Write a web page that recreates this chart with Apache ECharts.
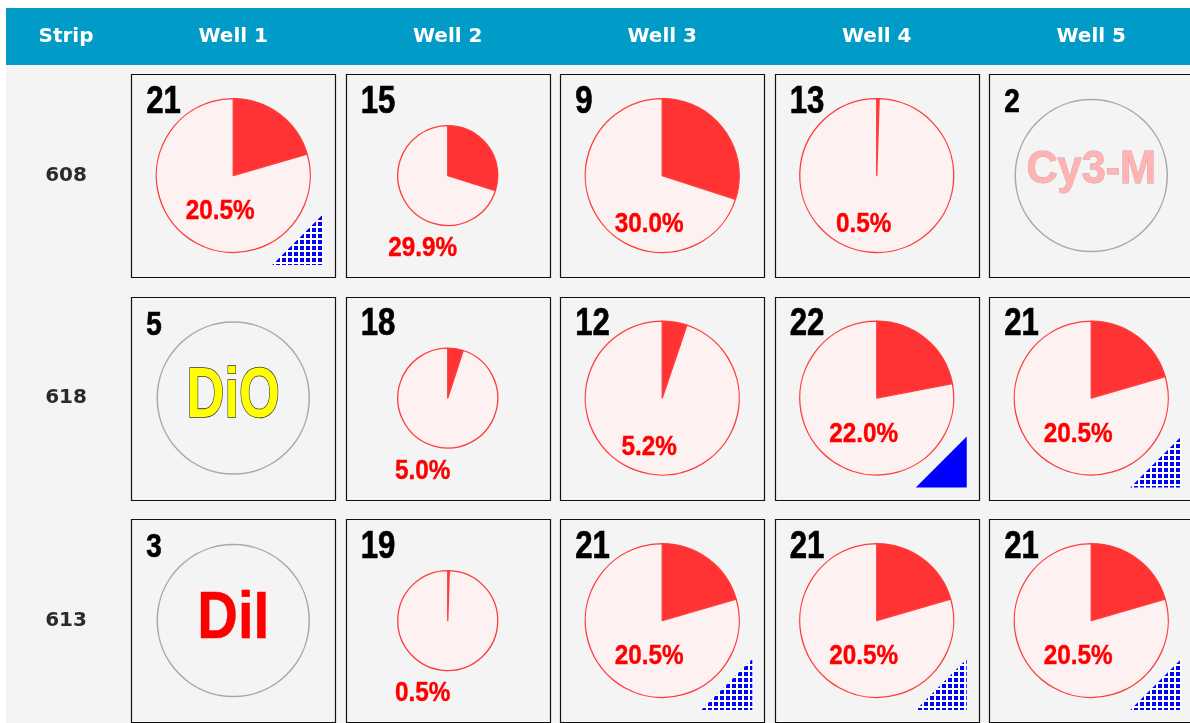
<!DOCTYPE html>
<html><head><meta charset="utf-8">
<script src="https://cdn.jsdelivr.net/npm/echarts@6/dist/echarts.min.js"></script>
<style>html,body{margin:0;padding:0;background:#fff;overflow:hidden}#c{width:1200px;height:740px}</style>
</head><body><div id="c"></div>
<script>
// ---- data ----
const strips = ['608', '618', '613'];
const wells = ['Well 1', 'Well 2', 'Well 3', 'Well 4', 'Well 5'];
const counts = [
  [21, 15, 9, 13, 2],
  [5, 18, 12, 22, 21],
  [3, 19, 21, 21, 21]
];
const positives = [
  [20.5, 29.9, 30.0, 0.5, null],
  [null, 5.0, 5.2, 22.0, 20.5],
  [null, 0.5, 20.5, 20.5, 20.5]
];
const dyes = [
  [null, null, null, null, 'Cy3-M'],
  ['DiO', null, null, null, null],
  ['DiI', null, null, null, null]
];
const markers = [
  ['hatched', null, null, null, null],
  [null, null, null, 'solid', 'hatched'],
  [null, null, 'hatched', 'hatched', 'hatched']
];
const compactWells = ['Well 2'];
const headerStrip = 'Strip';

// ---- layout / style ----
const PAGE_LEFT = 6, HEAD_TOP = 8, HEAD_BOTTOM = 65, GRID_TOP = 64.3;
const STRIP_COL = 120, COL_W = 214.5, ROW_H = 222.5;
const BOX_W = 204, BOX_H = 203;
const SANS = '"Liberation Sans",Arial,sans-serif';
const dyeStyle = {
  'Cy3-M': { fill: '#ffb3b3', stroke: '#c9a0a0', lineWidth: 0.8, size: 47, sx: 0.92, dy: -6 },
  'DiO': { fill: '#ffff00', stroke: '#333333', lineWidth: 1.6, size: 71, sx: 0.74, dy: -1 },
  'DiI': { fill: '#ff0000', stroke: '#ff0000', lineWidth: 0.5, size: 67, sx: 0.84, dy: -1 }
};

const cells = [];
strips.forEach((s, si) => wells.forEach((w, wi) => {
  cells.push({ si, wi, count: counts[si][wi], pct: positives[si][wi], dye: dyes[si][wi], marker: markers[si][wi] });
}));

// hatch pattern
const pc = document.createElement('canvas');
pc.width = 6; pc.height = 6;
const pctx = pc.getContext('2d');
pctx.fillStyle = '#ffffff'; pctx.fillRect(0, 0, 6, 6);
pctx.fillStyle = '#0000ff'; pctx.fillRect(0, 0, 4, 4);
const hatch = { type: 'pattern', image: pc, repeat: 'repeat' };

const chart = echarts.init(document.getElementById('c'), null, { renderer: 'canvas' });

function condText(text, x, y, size, sx, fill, align, extra) {
  const style = Object.assign({
    text, x: 0, y: 0, font: 'bold ' + size + 'px ' + SANS, fill,
    align, verticalAlign: 'middle'
  }, extra || {});
  return { type: 'text', x, y, scaleX: sx, scaleY: 1, style };
}

function renderBox(params, api) {
  const p = api.coord([api.value(0), api.value(1)]);
  return {
    type: 'rect',
    shape: { x: Math.round(p[0] - BOX_W / 2) + 0.5, y: Math.round(p[1] - BOX_H / 2) + 0.5, width: BOX_W, height: BOX_H },
    style: { fill: '#f4f4f4', stroke: '#111', lineWidth: 1.2 }
  };
}

function renderOverlay(params, api) {
  const cell = cells[params.dataIndex];
  const p = api.coord([api.value(0), api.value(1)]);
  const cx = p[0], cy = p[1];
  const left = cx - BOX_W / 2, top = cy - BOX_H / 2, right = cx + BOX_W / 2, bottom = cy + BOX_H / 2;
  const children = [];
  if (cell.marker) {
    const s = 51, m = 12;
    children.push({
      type: 'polygon',
      shape: { points: [[right - m, bottom - m - s], [right - m, bottom - m], [right - m - s, bottom - m]] },
      style: { fill: cell.marker === 'solid' ? '#0000ff' : hatch }
    });
  }
  children.push(condText(String(cell.count), left + 15, top + (cell.dye ? 29 : 28),
    cell.dye ? 34 : 38, 0.82, '#000', 'left', { stroke: '#000', lineWidth: 0.7 }));
  if (cell.pct != null) {
    const small = compactWells.includes(wells[cell.wi]);
    const dx = small ? -25 : -13;
    const dy = small ? 73 : (cell.marker ? 36 : 49);
    children.push(condText(cell.pct.toFixed(1) + '%', cx + dx, cy + dy, 27, 0.9, '#ff0000', 'center', { stroke: '#ff0000', lineWidth: 0.4 }));
  }
  if (cell.dye) {
    const st = dyeStyle[cell.dye];
    const extra = { stroke: st.stroke, lineWidth: st.lineWidth };
    children.push(condText(cell.dye, cx, cy + st.dy, st.size, st.sx, st.fill, 'center', extra));
  }
  return { type: 'group', children };
}

const base = {
  backgroundColor: '#ffffff',
  animation: false,
  graphic: {
    elements: [
      { type: 'rect', z: -10, silent: true, shape: { x: PAGE_LEFT, y: HEAD_BOTTOM, width: 1300, height: 800 }, style: { fill: '#f4f4f4' } },
      { type: 'rect', z: -10, silent: true, shape: { x: PAGE_LEFT, y: HEAD_TOP, width: 1300, height: HEAD_BOTTOM - HEAD_TOP }, style: { fill: '#009bc6' } },
      { type: 'text', z: 10, silent: true, style: { text: headerStrip, x: PAGE_LEFT + STRIP_COL / 2, y: (HEAD_TOP + HEAD_BOTTOM) / 2, align: 'center', verticalAlign: 'middle', fill: '#fff', font: 'bold 20px "DejaVu Sans"' } }
    ]
  },
  grid: { left: PAGE_LEFT + STRIP_COL, top: GRID_TOP, width: COL_W * wells.length, height: ROW_H * strips.length },
  xAxis: {
    type: 'category', data: wells, position: 'top',
    axisLine: { show: false }, axisTick: { show: false }, splitLine: { show: false },
    axisLabel: { color: '#fff', fontWeight: 'bold', fontSize: 20, fontFamily: 'DejaVu Sans', margin: GRID_TOP - (HEAD_TOP + HEAD_BOTTOM) / 2, verticalAlign: 'middle' }
  },
  yAxis: {
    type: 'category', data: strips, inverse: true,
    axisLine: { show: false }, axisTick: { show: false }, splitLine: { show: false },
    axisLabel: { color: '#2b2b2b', fontWeight: 'bold', fontSize: 20, fontFamily: 'DejaVu Sans', margin: STRIP_COL / 2, align: 'center', verticalAlign: 'middle' }
  },
  series: [
    { type: 'custom', name: 'boxes', z: 1, silent: true, clip: false, renderItem: renderBox, encode: { x: 0, y: 1 }, data: cells.map(c => [c.wi, c.si]) }
  ]
};
chart.setOption(base);

const pieSeries = cells.map(c => {
  const center = chart.convertToPixel({ gridIndex: 0 }, [wells[c.wi], strips[c.si]]);
  if (c.dye) {
    return {
      type: 'pie', center, radius: 76, silent: true, z: 2,
      label: { show: false }, labelLine: { show: false },
      itemStyle: { color: 'rgba(0,0,0,0)', borderColor: '#a8a8a8', borderWidth: 1.5 },
      data: [{ value: 1, name: c.dye }]
    };
  }
  const small = compactWells.includes(wells[c.wi]);
  return {
    type: 'pie', center, radius: small ? 50 : 77, startAngle: 90, clockwise: true, silent: true, z: 2,
    label: { show: false }, labelLine: { show: false },
    itemStyle: { borderColor: '#ff3b3b', borderWidth: 1.3 },
    data: [
      { value: c.pct, name: 'positive', itemStyle: { color: '#ff3333' } },
      { value: 100 - c.pct, name: 'negative', itemStyle: { color: '#fdf1f1' } }
    ]
  };
});

chart.setOption({
  series: base.series.concat(pieSeries, [
    { type: 'custom', name: 'overlay', z: 5, silent: true, clip: false, renderItem: renderOverlay, encode: { x: 0, y: 1 }, data: cells.map(c => [c.wi, c.si]) }
  ])
});
</script>
</body></html>
